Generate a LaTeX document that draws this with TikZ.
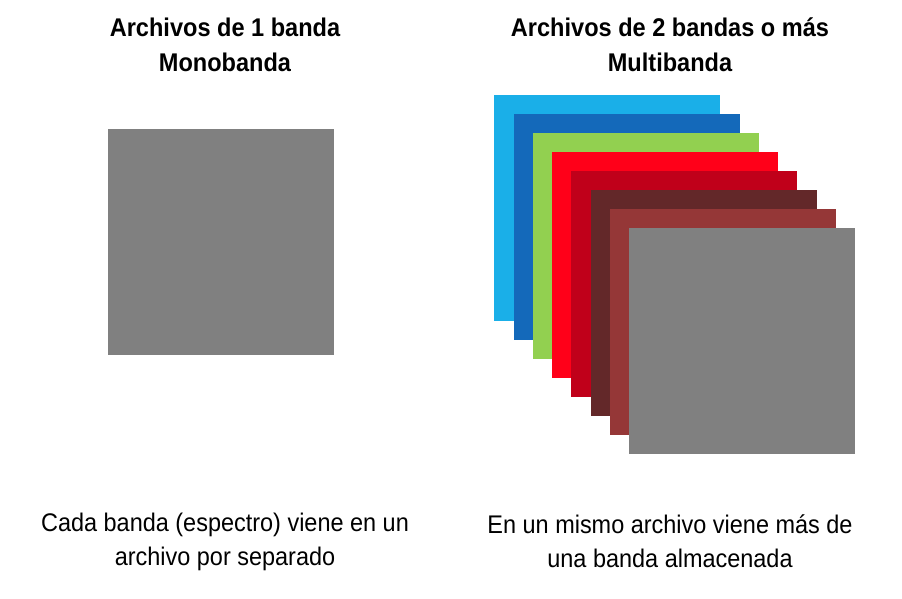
\documentclass[tikz,border=0pt]{standalone}
\usepackage{fontspec}
\setmainfont{Liberation Sans}[FakeStretch=0.92]
\usetikzlibrary{positioning}

\definecolor{celeste}{HTML}{1AAFE8}
\definecolor{azul}{HTML}{1469BA}
\definecolor{verde}{HTML}{92D050}
\definecolor{rojo}{HTML}{FF0019}
\definecolor{carmin}{HTML}{C0001A}
\definecolor{granate}{HTML}{632829}
\definecolor{teja}{HTML}{953737}
\definecolor{gris}{HTML}{808080}

\tikzset{
  banda/.style={fill=#1, draw=none, minimum size=226pt, inner sep=0pt, anchor=north west},
  titulo/.style={font=\bfseries\fontsize{25.6}{35}\selectfont, align=center},
  nota/.style={font=\fontsize{25.5}{34}\selectfont, align=center}
}

\begin{document}
\begin{tikzpicture}[x=1pt, y=-1pt]
    \useasboundingbox (0,0) rectangle (902,598);

    % Titulos
    \node[titulo] (tmono) at (225,45) {Archivos de 1 banda\\Monobanda};
    \node[titulo] (tmulti) at (670,45) {Archivos de 2 bandas o más\\Multibanda};

    % Archivo monobanda
    \node[banda=gris] (mono) at (108,129) {};

    % Pila de bandas
    \foreach \i/\c in {0/celeste, 1/azul, 2/verde, 3/rojo, 4/carmin, 5/granate, 6/teja, 7/gris} {
        \node[banda=\c] (b\i) at (494+19.3*\i, 95+18.95*\i) {};
      }

    % Notas
    \node[nota] (nmono) at (225,541.5) {Cada banda (espectro) viene en un\\archivo por separado};
    \node[nota] (nmulti) at (670,541.5) {En un mismo archivo viene más de\\una banda almacenada};
  \end{tikzpicture}
\end{document}
